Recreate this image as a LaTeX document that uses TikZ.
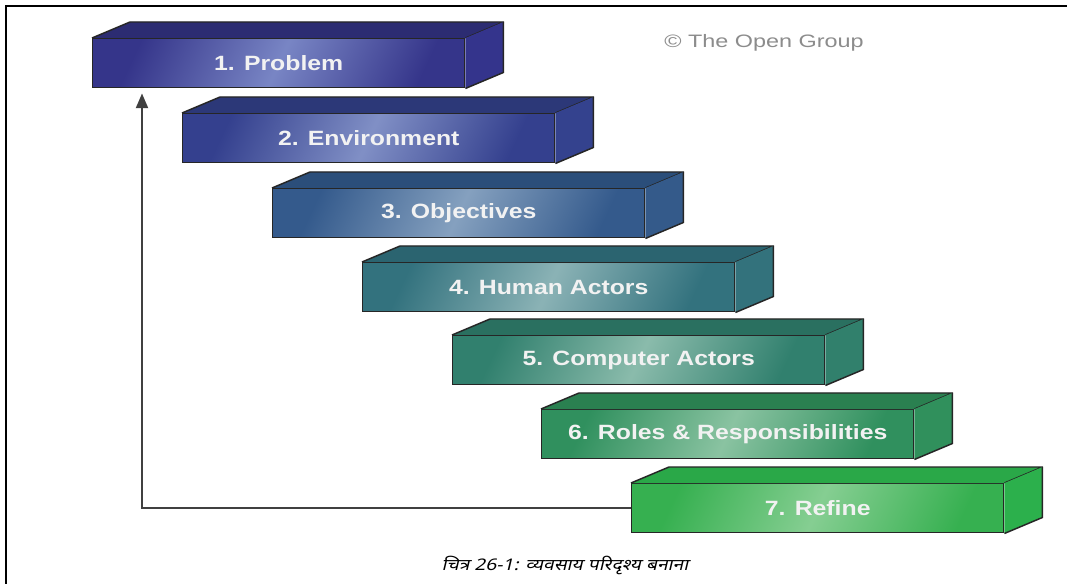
\documentclass[tikz,border=0pt]{standalone}
\usepackage{fontspec}
\setmainfont{Liberation Sans}
\newfontfamily\devafont[Script=Devanagari,FakeSlant=0.2]{Noto Sans}
\usetikzlibrary{arrows.meta,calc}
\tikzset{
  x=0.75pt, y=-0.75pt,
  front/.style={draw=black!85, line width=1.1pt, rectangle, inner sep=0pt,
    minimum width=279pt, minimum height=36.75pt, anchor=north west,
    text=white!95!black, font=\bfseries\fontsize{15.5}{18}\selectfont},
  face/.style={draw=black!85, line width=1.1pt, line join=round},
  arr/.style={line width=1.5pt, -{Triangle[width=9pt,length=11pt]}, color=black!75}
}
% #1 name, #2 x, #3 y, #4 dark, #5 light, #6 top, #7 side, #8 text
\newcommand\stepblock[8]{%
  \node[front, left color=#4, right color=#4, middle color=#5!75!#4, shading angle=65] (#1) at (#2,#3) {\scalebox{1.2}[1]{#8}};
  \fill[#6] (#1.north west) -- ++(38,-16) -- ($(#1.north east)+(38,-16)$) -- (#1.north east) -- cycle;
  \draw[face] (#1.north west) -- ++(38,-16) -- ($(#1.north east)+(38,-16)$) -- (#1.north east);
  \fill[#7] (#1.north east) -- ++(38,-16) -- ($(#1.south east)+(38,-16)$) -- (#1.south east) -- cycle;
  \draw[face] ($(#1.north east)+(38,-16)$) -- ($(#1.south east)+(38,-16)$) -- (#1.south east);
}
\begin{document}
\begin{tikzpicture}
\useasboundingbox (0,0) rectangle (1067,584);
\fill[white] (0,0) rectangle (1067,584);
\draw[black, line width=1.8pt] (6,584) -- (6,6) -- (1067,6);
\definecolor{d1}{HTML}{35358A}\definecolor{l1}{HTML}{8FA0D8}\definecolor{t1}{HTML}{2C2C72}\definecolor{s1}{HTML}{34348C}
\definecolor{d2}{HTML}{34408E}\definecolor{l2}{HTML}{9AAAD8}\definecolor{t2}{HTML}{2C3878}\definecolor{s2}{HTML}{34428E}
\definecolor{d3}{HTML}{345A8C}\definecolor{l3}{HTML}{A0B8D0}\definecolor{t3}{HTML}{2B4E7A}\definecolor{s3}{HTML}{345A8A}
\definecolor{d4}{HTML}{33727E}\definecolor{l4}{HTML}{A8C8C8}\definecolor{t4}{HTML}{2B6470}\definecolor{s4}{HTML}{33727C}
\definecolor{d5}{HTML}{31806E}\definecolor{l5}{HTML}{A8CFC0}\definecolor{t5}{HTML}{2A7060}\definecolor{s5}{HTML}{31806C}
\definecolor{d6}{HTML}{30905E}\definecolor{l6}{HTML}{A8D4B8}\definecolor{t6}{HTML}{2A8050}\definecolor{s6}{HTML}{30905C}
\definecolor{d7}{HTML}{36B050}\definecolor{l7}{HTML}{A0D8A8}\definecolor{t7}{HTML}{2AA848}\definecolor{s7}{HTML}{2CB04C}
\stepblock{b1}{92}{38}{d1}{l1}{t1}{s1}{1. Problem}
\stepblock{b2}{182}{113}{d2}{l2}{t2}{s2}{2. Environment}
\stepblock{b3}{272}{188}{d3}{l3}{t3}{s3}{3. Objectives}
\stepblock{b4}{362}{262}{d4}{l4}{t4}{s4}{4. Human Actors}
\stepblock{b5}{452}{335}{d5}{l5}{t5}{s5}{5. Computer Actors}
\stepblock{b6}{541}{409}{d6}{l6}{t6}{s6}{6. Roles \& Responsibilities}
\stepblock{b7}{631}{483}{d7}{l7}{t7}{s7}{7. Refine}
\coordinate (tip) at ($(b1.south west)+(50,5)$);
\draw[arr] (b7.west) -| (tip);
\node[text=black!45, font=\fontsize{13.5}{16}\selectfont] (copy) at (764,43) {\scalebox{1.3}[1]{© The Open Group}};
\node[font=\devafont\fontsize{12}{14}\selectfont] (cap) at (565,565) {\scalebox{1.2}[1]{चित्र 26-1: व्यवसाय परिदृश्य बनाना}};
\end{tikzpicture}
\end{document}
